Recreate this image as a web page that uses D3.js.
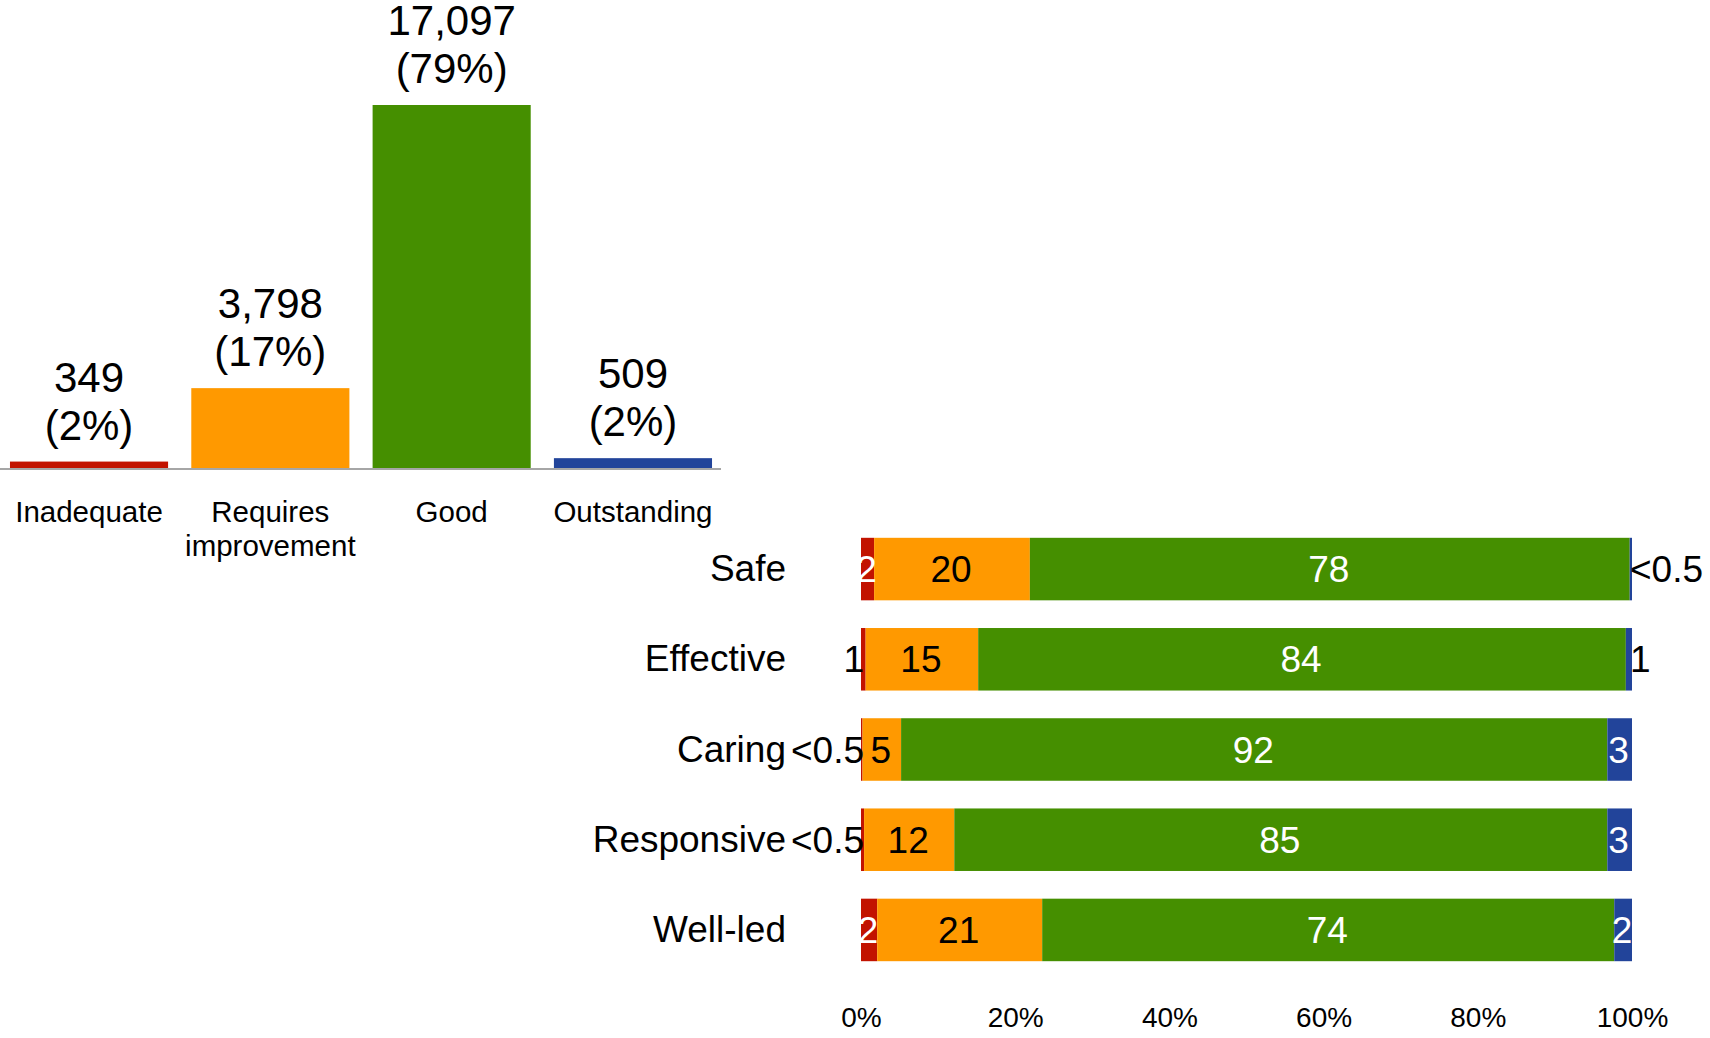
<!DOCTYPE html>
<html>
<head>
<meta charset="utf-8">
<script src="https://cdn.jsdelivr.net/npm/d3@7"></script>
<style>
  html, body { margin: 0; padding: 0; background: #fff; }
  svg { display: block; font-family: "Liberation Sans", Arial, sans-serif; }
</style>
</head>
<body>
<svg id="viz" width="1710" height="1038"></svg>
<script>
// Overall ratings (top chart)
const ratings = ["Inadequate", "Requires improvement", "Good", "Outstanding"];
const ratingCounts = [349, 3798, 17097, 509];
const ratingShares = [2, 17, 79, 2];
const ratingColors = ["#c21300", "#ff9900", "#458f00", "#22449a"];

// Key question ratings, % of locations (bottom chart)
const questions = ["Safe", "Effective", "Caring", "Responsive", "Well-led"];
const inadequatePct = [1.7, 0.6, 0.2, 0.4, 2.1];
const requiresPct = [20.2, 14.6, 5.0, 11.7, 21.4];
const goodPct = [77.8, 84.0, 91.6, 84.7, 74.2];
const outstandingPct = [0.3, 0.8, 3.2, 3.2, 2.3];
const pctTicks = [0, 20, 40, 60, 80, 100];

const svg = d3.select("#viz");

// ---- Top: column chart ----
const xTop = d3.scaleBand()
    .domain(ratings)
    .range([0, 722])
    .paddingInner(0.128)
    .paddingOuter(0.055);

const yTop = d3.scaleLinear()
    .domain([0, d3.max(ratingCounts)])
    .range([469, 105]);

const topG = svg.append("g");

topG.selectAll("rect")
    .data(ratings)
    .enter()
    .append("rect")
    .attr("x", d => xTop(d))
    .attr("width", xTop.bandwidth())
    .attr("y", (d, i) => yTop(ratingCounts[i]))
    .attr("height", (d, i) => yTop(0) - yTop(ratingCounts[i]))
    .attr("fill", (d, i) => ratingColors[i]);

topG.append("line")
    .attr("x1", 0).attr("x2", 721)
    .attr("y1", yTop(0)).attr("y2", yTop(0))
    .attr("stroke", "#a6a6a6")
    .attr("stroke-width", 2);

// value labels above the columns
const valLabels = topG.selectAll(".val")
    .data(ratings)
    .enter()
    .append("text")
    .attr("class", "val")
    .attr("text-anchor", "middle")
    .attr("font-size", 42)
    .attr("fill", "#000");

valLabels.append("tspan")
    .attr("x", d => xTop(d) + xTop.bandwidth() / 2)
    .attr("y", (d, i) => yTop(ratingCounts[i]) - 70)
    .text((d, i) => d3.format(",")(ratingCounts[i]));

valLabels.append("tspan")
    .attr("x", d => xTop(d) + xTop.bandwidth() / 2)
    .attr("y", (d, i) => yTop(ratingCounts[i]) - 22)
    .text((d, i) => "(" + ratingShares[i] + "%)");

// category labels under the axis
const catLabels = topG.selectAll(".cat")
    .data(ratings)
    .enter()
    .append("text")
    .attr("class", "cat")
    .attr("text-anchor", "middle")
    .attr("font-size", 29.5)
    .attr("fill", "#000");

catLabels.each(function(d) {
    const lines = d.split(" ");
    d3.select(this).selectAll("tspan")
        .data(lines)
        .enter()
        .append("tspan")
        .attr("x", xTop(d) + xTop.bandwidth() / 2)
        .attr("y", (l, j) => 522 + j * 34)
        .text(l => l);
});

// ---- Bottom: 100% stacked bars ----
const keys = ["inadequate", "requires", "good", "outstanding"];
const rows = questions.map((q, i) => ({
    question: q,
    inadequate: inadequatePct[i],
    requires: requiresPct[i],
    good: goodPct[i],
    outstanding: outstandingPct[i]
}));
const series = d3.stack().keys(keys)(rows);

const xBot = d3.scaleLinear().domain([0, 100]).range([861, 1632]);
const yBot = d3.scaleBand()
    .domain(questions)
    .range([524, 975])
    .paddingInner(0.307)
    .paddingOuter(0.153);

const labelColors = ["#fff", "#000", "#fff", "#fff"];
const fmt = v => v < 0.5 ? "<0.5" : String(Math.round(v));

const botG = svg.append("g");

const layers = botG.selectAll(".layer")
    .data(series)
    .enter()
    .append("g")
    .attr("class", "layer")
    .attr("fill", (s, i) => ratingColors[i]);

layers.selectAll("rect")
    .data(s => s)
    .enter()
    .append("rect")
    .attr("x", d => xBot(d[0]))
    .attr("width", d => xBot(d[1]) - xBot(d[0]))
    .attr("y", d => yBot(d.data.question))
    .attr("height", yBot.bandwidth());

// segment labels: inside when wide enough, else just outside the bar
series.forEach((s, si) => {
    botG.selectAll(".seg" + si)
        .data(s)
        .enter()
        .append("text")
        .attr("class", "seg" + si)
        .attr("font-size", 37)
        .attr("y", d => yBot(d.data.question) + yBot.bandwidth() / 2 + 13)
        .each(function(d) {
            const v = d[1] - d[0];
            const t = d3.select(this).text(fmt(v));
            if (v >= 1.5) {
                t.attr("x", xBot((d[0] + d[1]) / 2) - 1)
                    .attr("text-anchor", "middle")
                    .attr("fill", labelColors[si]);
            } else if (si === 0) {
                t.attr("x", xBot(0) + 3)
                    .attr("text-anchor", "end")
                    .attr("fill", "#000");
            } else {
                t.attr("x", xBot(100) - 2)
                    .attr("text-anchor", "start")
                    .attr("fill", "#000");
            }
        });
});

// question labels
botG.selectAll(".q")
    .data(questions)
    .enter()
    .append("text")
    .attr("class", "q")
    .attr("x", 786)
    .attr("y", d => yBot(d) + yBot.bandwidth() / 2 + 12)
    .attr("text-anchor", "end")
    .attr("font-size", 37)
    .attr("fill", "#000")
    .text(d => d);

// percent axis
const xAxis = d3.axisBottom(xBot)
    .tickValues(pctTicks)
    .tickFormat(d => d + "%")
    .tickSize(0)
    .tickPadding(7);

const axisG = botG.append("g")
    .attr("transform", "translate(0,1000)")
    .call(xAxis);
axisG.select(".domain").remove();
axisG.selectAll("text")
    .attr("font-size", 28)
    .attr("font-family", "Liberation Sans, Arial, sans-serif")
    .attr("fill", "#000");
</script>
</body>
</html>
